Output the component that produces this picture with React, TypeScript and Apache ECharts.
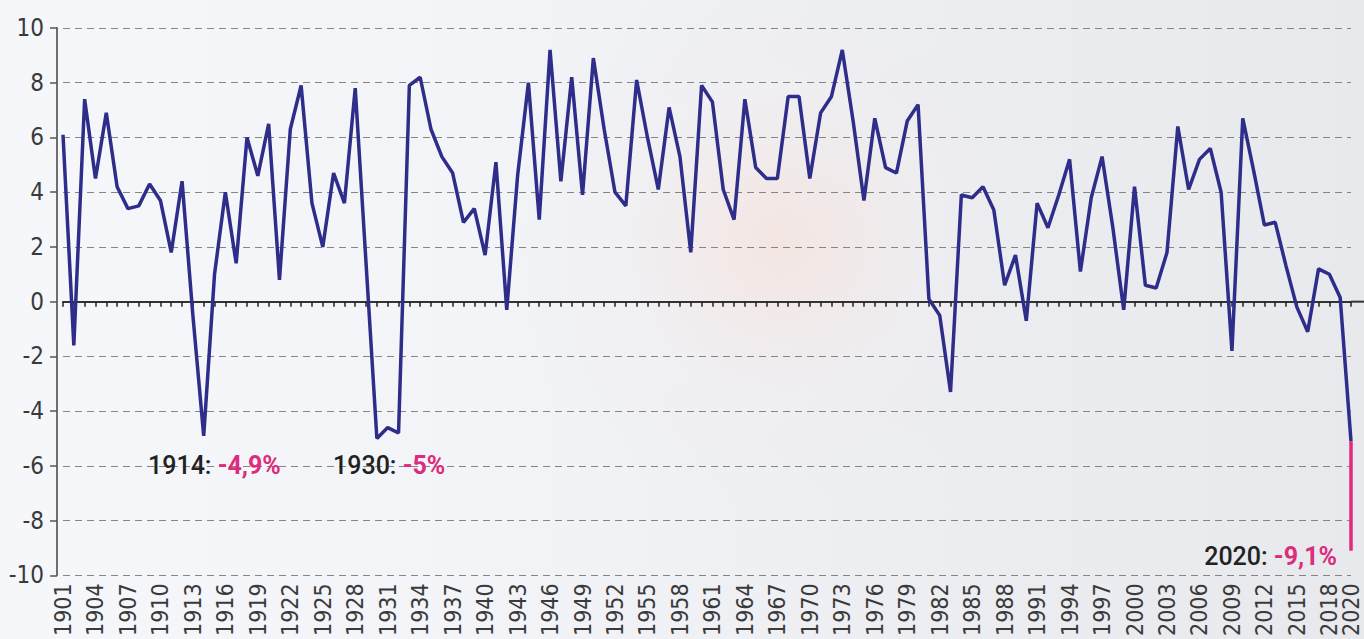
import React, { useEffect, useRef } from "react";
import * as echarts from "echarts";

const firstYear = 1901;
const lastYear = 2020;
const years: string[] = [];
for (let y = firstYear; y <= lastYear; y++) years.push(String(y));

// annual growth, %, 1901..2020 (blue line)
const growth = [
  6.1, -1.6, 7.4, 4.5, 6.9, 4.2, 3.4, 3.5, 4.3, 3.7, // 1901-1910
  1.8, 4.4, -0.5, -4.9, 1.0, 4.0, 1.4, 6.0, 4.6, 6.5, // 1911-1920
  0.8, 6.3, 7.9, 3.6, 2.0, 4.7, 3.6, 7.8, 1.4, -5.0, // 1921-1930
  -4.6, -4.8, 7.9, 8.2, 6.3, 5.3, 4.7, 2.9, 3.4, 1.7, // 1931-1940
  5.1, -0.3, 4.6, 8.0, 3.0, 9.2, 4.4, 8.2, 3.9, 8.9, // 1941-1950
  6.3, 4.0, 3.5, 8.1, 6.0, 4.1, 7.1, 5.3, 1.8, 7.9, // 1951-1960
  7.3, 4.1, 3.0, 7.4, 4.9, 4.5, 4.5, 7.5, 7.5, 4.5, // 1961-1970
  6.9, 7.5, 9.2, 6.6, 3.7, 6.7, 4.9, 4.7, 6.6, 7.2, // 1971-1980
  0.1, -0.5, -3.3, 3.9, 3.8, 4.2, 3.35, 0.6, 1.7, -0.7, // 1981-1990
  3.6, 2.7, 3.9, 5.2, 1.1, 3.8, 5.3, 2.7, -0.3, 4.2, // 1991-2000
  0.6, 0.5, 1.8, 6.4, 4.1, 5.2, 5.6, 4.0, -1.8, 6.7, // 2001-2010
  4.8, 2.8, 2.9, 1.3, -0.2, -1.1, 1.2, 1.0, 0.15, -5.1, // 2011-2020
];

// 2020 revision drop (pink segment)
const drop2020Year = "2020";
const drop2020Values = [-5.1, -9.1];

const yMin = -10;
const yMax = 10;
const yStep = 2;

const annotations = [
  { year: "1914: ", value: "-4,9%", x: 148, y: 465, align: "left" },
  { year: "1930: ", value: "-5%", x: 333, y: 465, align: "left" },
  { year: "2020: ", value: "-9,1%", x: 1337, y: 556, align: "right" },
];

const NARROW = '"Liberation Sans Narrow", "DejaVu Sans Condensed", "Roboto", sans-serif';

export default function App() {
  const ref = useRef<HTMLDivElement>(null);

  useEffect(() => {
    document.body.style.margin = "0";
    if (!ref.current) return;
    const chart = echarts.init(ref.current, undefined, { renderer: "svg" });
    const graphicTexts = annotations.map((a) => ({
      type: "text",
      x: a.x,
      y: a.y,
      z: 10,
      style: {
        text: `{a|${a.year}}{b|${a.value}}`,
        align: a.align,
        verticalAlign: "middle",
        rich: {
          a: { fontSize: 25, fontFamily: "Roboto, sans-serif", fontWeight: 500, fill: "#222222" },
          b: { fontSize: 25, fontFamily: "Roboto, sans-serif", fontWeight: "bold", fill: "#dc2c7c" },
        },
      },
    }));
    const lastIdx = years.length - 1;
    const option: any = {
      animation: false,
      backgroundColor: "transparent",
      grid: { left: 63, right: 13, top: 28, bottom: 58, containLabel: false },
      xAxis: [
        {
          type: "category",
          data: years,
          boundaryGap: false,
          position: "bottom",
          axisLine: { show: false, onZero: false },
          axisTick: { show: false },
          splitLine: { show: false },
          axisLabel: {
            rotate: 90,
            interval: 0,
            formatter: (v: string, i: number) => (i % 3 === 0 || i === lastIdx ? v : ""),
            showMaxLabel: true,
            showMinLabel: true,
            hideOverlap: false,
            fontSize: 23,
            lineHeight: 18,
            fontFamily: NARROW,
            color: "#3a3a3a",
            margin: 8,
          },
        },
        {
          type: "category",
          data: years,
          boundaryGap: false,
          position: "top",
          axisLine: { show: true, onZero: true, lineStyle: { color: "#333", width: 2 } },
          axisTick: { show: true, inside: true, interval: 0, length: 5, lineStyle: { color: "#222", width: 1.5 } },
          axisLabel: { show: false },
          splitLine: { show: false },
        },
      ],
      yAxis: {
        type: "value",
        min: yMin,
        max: yMax,
        interval: yStep,
        offset: 6,
        axisLine: { show: true, onZero: false, lineStyle: { color: "#6e6e6e", width: 2 } },
        axisTick: { show: true, length: 7, lineStyle: { color: "#555", width: 1.5 } },
        axisLabel: { fontSize: 24, fontFamily: NARROW, color: "#3a3a3a", margin: 13 },
        splitLine: { show: true, lineStyle: { color: "#858585", type: [7, 5], width: 1 } },
      },
      series: [
        {
          type: "line",
          data: growth,
          xAxisIndex: 0,
          symbol: "none",
          lineStyle: { color: "#2e2d8a", width: 3.5 },
          z: 3,
        },
        {
          type: "line",
          data: drop2020Values.map((v) => [drop2020Year, v]),
          xAxisIndex: 0,
          symbol: "none",
          lineStyle: { color: "#e5287f", width: 3.5 },
          z: 4,
        },
      ],
      graphic: graphicTexts,
    };
    chart.setOption(option);

    // extend the zero axis line to the right edge
    const zeroY = chart.convertToPixel({ yAxisIndex: 0 }, 0) as number;
    const lastX = chart.convertToPixel({ xAxisIndex: 0 }, lastIdx) as number;
    chart.setOption({
      graphic: [
        ...graphicTexts,
        {
          type: "line",
          shape: { x1: lastX, y1: zeroY, x2: 1364, y2: zeroY },
          style: { stroke: "#333", lineWidth: 2 },
          z: 2,
        },
      ],
    });

    return () => chart.dispose();
  }, []);

  return (
    <div
      style={{
        width: 1364,
        height: 639,
        background:
          "radial-gradient(ellipse 20% 42% at 57% 38%, rgba(248,222,212,0.55) 0%, rgba(244,234,236,0.28) 55%, rgba(240,240,244,0) 100%), linear-gradient(90deg, #f5f7fa 0%, #f2f4f8 35%, #eceef2 65%, #e7e9ed 100%)",
      }}
    >
      <div ref={ref} style={{ width: 1364, height: 639 }} />
    </div>
  );
}
